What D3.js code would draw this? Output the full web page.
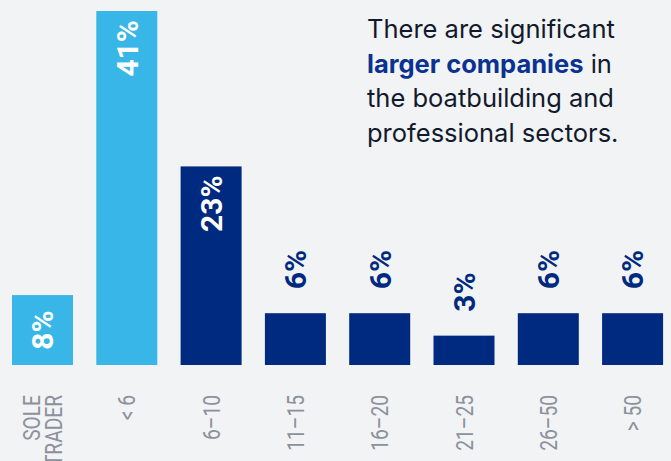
<!DOCTYPE html>
<html>
<head>
<meta charset="utf-8">
<script src="https://cdn.jsdelivr.net/npm/d3@7"></script>
<style>
  html, body { margin: 0; padding: 0; background: #f2f3f5; }
  svg { display: block; }
</style>
</head>
<body>
<svg id="chart" width="671" height="461"></svg>
<script>
const categories = [["SOLE", "TRADER"], ["< 6"], ["6–10"], ["11–15"], ["16–20"], ["21–25"], ["26–50"], ["> 50"]];
const values = [8.1, 41, 23, 6, 6, 3.4, 6, 6];
const labels = ["8%", "41%", "23%", "6%", "6%", "3%", "6%", "6%"];
const highlight = [true, true, false, false, false, false, false, false];
const headline = [
  [{t: "There are significant", b: false}],
  [{t: "larger companies", b: true}, {t: " in", b: false}],
  [{t: "the boatbuilding and", b: false}],
  [{t: "professional sectors.", b: false}]
];

const svg = d3.select("#chart");
const W = 671, H = 461;
svg.append("rect").attr("width", W).attr("height", H).attr("fill", "#f2f3f5");

const x = d3.scaleBand().domain(d3.range(categories.length)).range([0.2, 674.9]).paddingInner(0.2764).paddingOuter(0.14);
const y = d3.scaleLinear().domain([0, 41]).range([365, 11]);

const LIGHT = "#38b6e7", NAVY = "#002a7f";

const g = svg.append("g");
g.selectAll("rect.bar").data(values).join("rect")
  .attr("class", "bar")
  .attr("x", (d, i) => x(i))
  .attr("width", x.bandwidth())
  .attr("y", d => y(d))
  .attr("height", d => y(0) - y(d))
  .attr("fill", (d, i) => highlight[i] ? LIGHT : NAVY);

// value labels
values.forEach((v, i) => {
  const cx = x(i) + x.bandwidth() / 2;
  const top = y(v), h = y(0) - y(v);
  let ay, anchor, fill;
  if (h >= 100) { ay = top + 9; anchor = "end"; fill = "#ffffff"; }
  else if (h >= 60) { ay = top + h / 2; anchor = "middle"; fill = "#ffffff"; }
  else { ay = top - 24; anchor = "start"; fill = NAVY; }
  g.append("text")
    .attr("transform", `translate(${cx},${ay}) rotate(-90)`)
    .attr("text-anchor", anchor)
    .attr("dy", "0.36em")
    .attr("font-family", "Roboto, sans-serif")
    .attr("font-weight", 700)
    .attr("font-size", 30)
    .attr("fill", fill)
    .text(labels[i]);
});

// category labels
categories.forEach((lines, i) => {
  const cx = x(i) + x.bandwidth() / 2;
  const n = lines.length;
  lines.forEach((ln, j) => {
    const off = (j - (n - 1) / 2) * 22;
    g.append("text")
      .attr("transform", `translate(${cx + off},395) rotate(-90) scale(0.8,1)`)
      .attr("text-anchor", "end")
      .attr("dy", "0.36em")
      .attr("font-family", "Roboto, sans-serif")
      .attr("font-size", 24)
      .attr("fill", "#8c919b")
      .text(ln);
  });
});

// headline
const ht = svg.append("text")
  .attr("font-family", "Inter, sans-serif")
  .attr("font-size", 25.5)
  .attr("fill", "#111a2c");
headline.forEach((line, li) => {
  line.forEach((seg, si) => {
    const ts = ht.append("tspan").text(seg.t);
    if (si === 0) ts.attr("x", 367).attr("y", 38 + li * 34.6);
    if (seg.b) ts.attr("font-weight", 700).attr("fill", "#0b3290");
  });
});
</script>
</body>
</html>
